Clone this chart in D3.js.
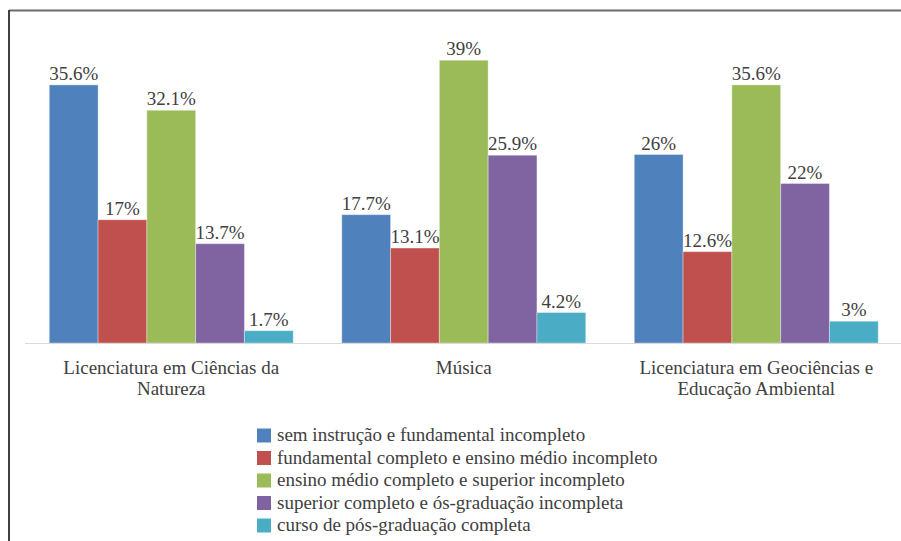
<!DOCTYPE html>
<html>
<head>
<meta charset="utf-8">
<script src="https://cdn.jsdelivr.net/npm/d3@7"></script>
<style>
  html, body { margin: 0; padding: 0; background: #fff; }
  svg { display: block; }
</style>
</head>
<body>
<svg id="chart" width="901" height="541"></svg>
<script>
// Course categories (x axis)
const categories = [
  ["Licenciatura em Ciências da", "Natureza"],
  ["Música"],
  ["Licenciatura em Geociências e", "Educação Ambiental"]
];
// Education-level series (legend order)
const seriesNames = [
  "sem instrução e fundamental incompleto",
  "fundamental completo e ensino médio incompleto",
  "ensino médio completo e superior incompleto",
  "superior completo e ós-graduação incompleta",
  "curso de pós-graduação completa"
];
const seriesColors = ["#4F81BD", "#C0504D", "#9BBB59", "#8064A2", "#4BACC6"];
// Percentages per series, one value per category
const semInstrucao   = [35.6, 17.7, 26];
const fundamental    = [17, 13.1, 12.6];
const ensinoMedio    = [32.1, 39, 35.6];
const superior       = [13.7, 25.9, 22];
const posGraduacao   = [1.7, 4.2, 3];
const seriesValues = [semInstrucao, fundamental, ensinoMedio, superior, posGraduacao];

const FONT = "Liberation Serif";
const TEXT_COLOR = "#404040";
const FONT_SIZE = 19;
const svg = d3.select("#chart");

// Shared text styling
function styleText(sel) {
  return sel.style("font-family", FONT)
    .attr("font-size", FONT_SIZE)
    .attr("fill", TEXT_COLOR);
}

// Outer frame (top and left edges)
svg.append("line").attr("x1", 9).attr("x2", 901).attr("y1", 10.5).attr("y2", 10.5)
  .attr("stroke", "#6b6b6b").attr("stroke-width", 2);
svg.append("line").attr("x1", 9).attr("x2", 9).attr("y1", 10).attr("y2", 541)
  .attr("stroke", "#404040").attr("stroke-width", 2);

const x0 = d3.scaleBand()
  .domain(d3.range(categories.length))
  .range([25, 902.5])
  .paddingInner(0.166)
  .paddingOuter(0.083);

const x1 = d3.scaleBand()
  .domain(d3.range(seriesNames.length))
  .range([0, x0.bandwidth()]);

const y = d3.scaleLinear().domain([0, 40]).range([343, 53]);

// Bars and value labels
const groups = svg.append("g").selectAll("g")
  .data(categories.map((c, i) => i))
  .join("g")
  .attr("transform", i => `translate(${x0(i)},0)`);

groups.selectAll("rect")
  .data(i => seriesValues.map((vals, s) => ({ s, v: vals[i] })))
  .join("rect")
  .attr("x", d => x1(d.s))
  .attr("width", x1.bandwidth())
  .attr("y", d => y(d.v))
  .attr("height", d => y(0) - y(d.v))
  .attr("fill", d => seriesColors[d.s])
  .attr("stroke", "rgba(255,255,255,0.35)")
  .attr("stroke-width", 1);

groups.selectAll("text.val")
  .data(i => seriesValues.map((vals, s) => ({ s, v: vals[i] })))
  .join("text")
  .attr("class", "val")
  .attr("x", d => x1(d.s) + x1.bandwidth() / 2)
  .attr("y", d => y(d.v) - 5)
  .attr("text-anchor", "middle")
  .call(styleText)
  .text(d => d.v + "%");

// Category axis baseline
svg.append("line").attr("x1", 25).attr("x2", 901).attr("y1", 343.5).attr("y2", 343.5)
  .attr("stroke", "#d9d9d9").attr("stroke-width", 1);

// Category labels
svg.append("g").selectAll("text")
  .data(categories.map((c, i) => ({ c, i })))
  .join("text")
  .attr("x", d => x0(d.i) + x0.bandwidth() / 2)
  .attr("y", 374)
  .attr("text-anchor", "middle")
  .call(styleText)
  .selectAll("tspan")
  .data(d => d.c.map((line, k) => ({ line, k, x: x0(d.i) + x0.bandwidth() / 2 })))
  .join("tspan")
  .attr("x", d => d.x)
  .attr("dy", d => d.k === 0 ? 0 : 21)
  .style("font-family", FONT)
  .text(d => d.line);

// Legend
const legend = svg.append("g").attr("transform", "translate(257,0)");
const rows = legend.selectAll("g")
  .data(seriesNames.map((n, i) => ({ n, i })))
  .join("g")
  .attr("transform", d => `translate(0,${435 + d.i * 22.5})`);
rows.append("rect")
  .attr("x", 0).attr("y", -6.5).attr("width", 14).attr("height", 14)
  .attr("fill", d => seriesColors[d.i]);
rows.append("text")
  .attr("x", 20).attr("y", 6)
  .call(styleText)
  .text(d => d.n);
</script>
</body>
</html>
